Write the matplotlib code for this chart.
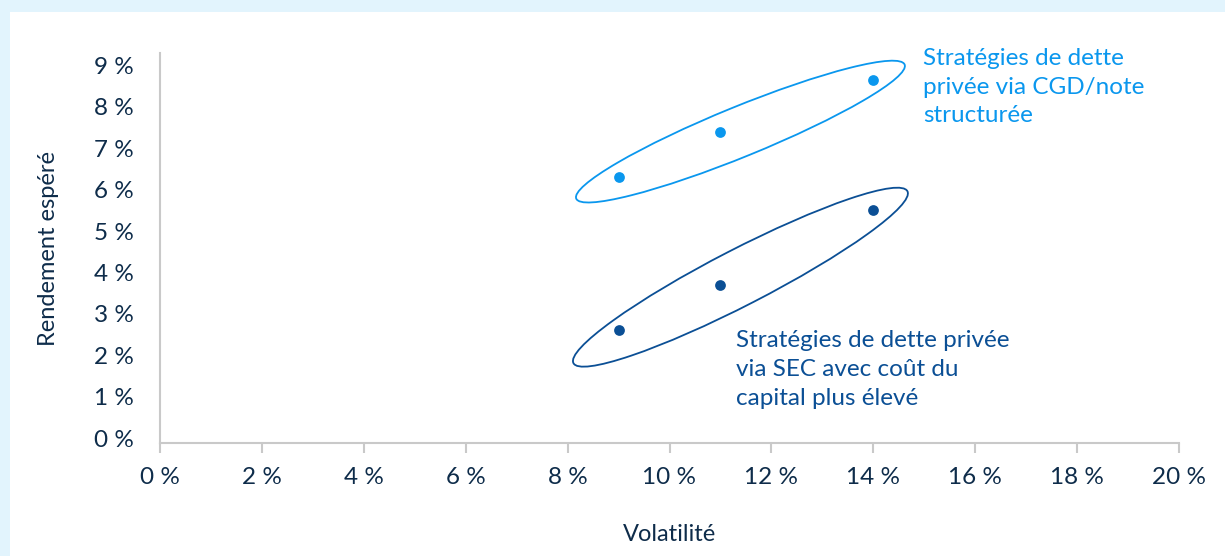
import numpy as np
import matplotlib
matplotlib.use("Agg")
import matplotlib.pyplot as plt
import matplotlib.patches as mpatches
from matplotlib.ticker import FuncFormatter, MultipleLocator
from matplotlib.transforms import IdentityTransform

plt.rcParams['font.family'] = ['Lato', 'DejaVu Sans']

# data (volatility %, expected return %)
vol_cgd = [9, 11, 14]
ret_cgd = [6.3, 7.4, 8.65]
vol_sec = [9, 11, 14]
ret_sec = [2.6, 3.7, 5.5]

label_cgd = "Stratégies de dette\nprivée via CGD/note\nstructurée"
label_sec = "Stratégies de dette privée\nvia SEC avec coût du\ncapital plus élevé"

c_light = "#0A97EE"
c_dark = "#0B4F95"
c_text = "#0E2C4A"
c_axis = "#C9C9C9"

fig = plt.figure(figsize=(12.25, 5.56), dpi=100)
fig.patch.set_facecolor("#E2F4FD")
bg = mpatches.Rectangle((10 / 1225, 0), 1, (556 - 12) / 556,
                        transform=fig.transFigure,
                        facecolor="white", edgecolor="none", zorder=-10)
fig.add_artist(bg)

ax = fig.add_axes([160 / 1225, 113 / 556, (1179 - 160) / 1225, (443 - 53) / 556])
ax.set_facecolor("none")

ax.scatter(vol_cgd, ret_cgd, s=60, color=c_light, zorder=3, linewidths=0)
ax.scatter(vol_sec, ret_sec, s=60, color=c_dark, zorder=3, linewidths=0)

ax.set_xlim(0, 20)
ax.set_ylim(-0.12, 9.3)
ax.xaxis.set_major_locator(MultipleLocator(2))
ax.xaxis.set_major_formatter(FuncFormatter(lambda v, p: f"{v:.0f} %"))
ax.yaxis.set_major_formatter(FuncFormatter(lambda v, p: f"{v:.0f} %"))
ax.set_yticks(range(0, 10))

for s in ["top", "right"]:
    ax.spines[s].set_visible(False)
for s in ["left", "bottom"]:
    ax.spines[s].set_color(c_axis)
    ax.spines[s].set_linewidth(1.5)

ax.tick_params(axis="x", length=7, width=1.5, color=c_axis, labelsize=17.5,
               labelcolor=c_text, pad=10)
ax.tick_params(axis="y", length=0, labelsize=17.5, labelcolor=c_text, pad=19)

ax.set_xlabel("Volatilité", fontsize=17, color=c_text, labelpad=26)
ax.set_ylabel("Rendement espéré", fontsize=17, color=c_text, labelpad=25)

# text labels
ax.text(14.98, 9.42, label_cgd, color=c_light, fontsize=17.5, va="top", ha="left",
        linespacing=1.45)
ax.text(11.3, 2.6, label_sec, color=c_dark, fontsize=17.5, va="top", ha="left",
        linespacing=1.45)


# ellipses drawn around each group in pixel space
def group_ellipse(xs, ys, color, pad, minor, tilt):
    pts = ax.transData.transform(np.column_stack([xs, ys]))
    p0, p1 = pts[0], pts[-1]
    center = pts.mean(axis=0) + np.array([3, -2])
    d = p1 - p0
    angle = np.degrees(np.arctan2(d[1], d[0])) + tilt
    length = np.hypot(d[0], d[1]) + pad
    e = mpatches.Ellipse(center, length, minor, angle=angle, transform=IdentityTransform(),
                         fill=False, edgecolor=color, linewidth=1.3, zorder=2)
    fig.add_artist(e)


group_ellipse(vol_cgd, ret_cgd, c_light, 82, 50, 1.3)
group_ellipse(vol_sec, ret_sec, c_dark, 94, 56, 2.0)

fig.savefig("out.png", dpi=100, facecolor=fig.get_facecolor())
